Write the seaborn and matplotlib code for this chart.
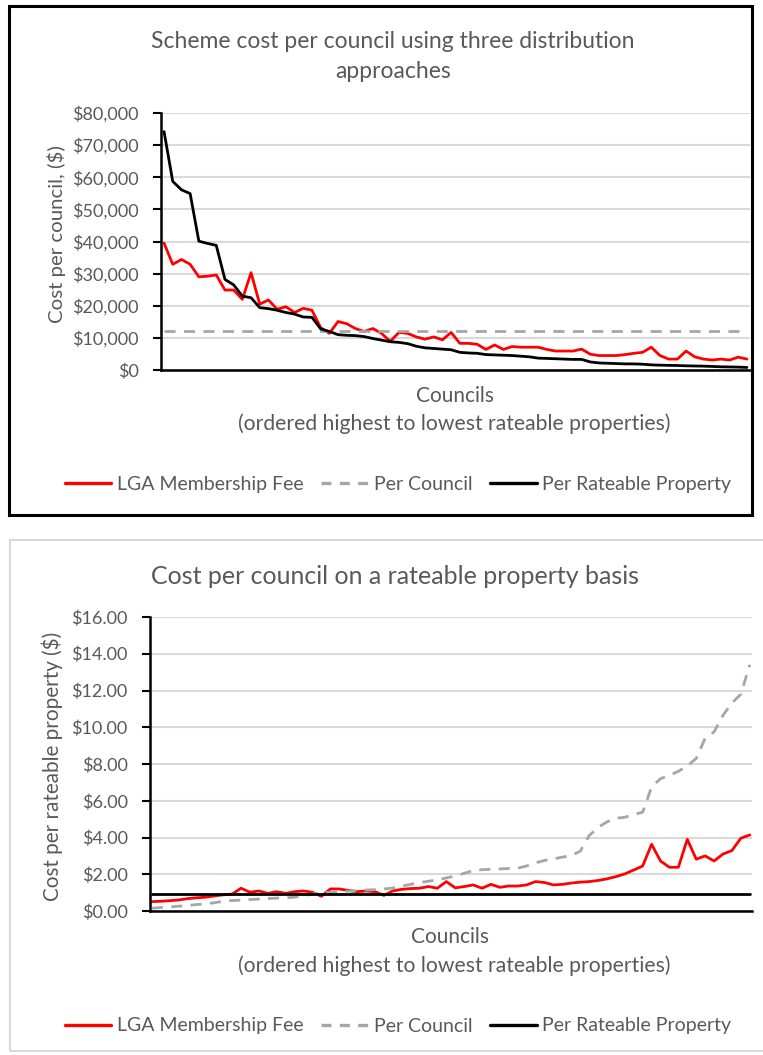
import numpy as np
import pandas as pd
import seaborn as sns
import matplotlib
matplotlib.use("Agg")
import matplotlib.pyplot as plt
from matplotlib.lines import Line2D
from matplotlib.patches import Rectangle
from matplotlib.ticker import FuncFormatter, MultipleLocator

# ---- Data: 68 councils ordered from highest to lowest rateable properties ----
# Scheme cost per council ($), LGA membership-fee distribution
lga_fee_cost = [
    39500, 32900, 34400, 32900, 29000, 29200, 29600, 24900, 24900, 22000,
    30300, 20500, 21800, 18900, 19700, 17900, 19200, 18600, 13200, 11400,
    15100, 14400, 12900, 12000, 12900, 11400, 8900, 11700, 11400, 10300,
    9600, 10300, 9400, 11700, 8300, 8300, 8000, 6400, 7800, 6400,
    7300, 7100, 7100, 7100, 6400, 5900, 5900, 5900, 6500, 4900,
    4500, 4500, 4500, 4800, 5200, 5500, 7100, 4500, 3400, 3400,
    5900, 4100, 3400, 3100, 3400, 3100, 4000, 3400,
]
# Scheme cost per council ($), rateable-property distribution
per_property_cost = [
    74200, 58700, 56100, 54900, 40100, 39400, 38800, 28200, 26500, 23000,
    22500, 19400, 19100, 18600, 17900, 17400, 16500, 16400, 12800, 12000,
    11000, 10800, 10700, 10400, 9800, 9300, 8800, 8600, 8200, 7400,
    6900, 6700, 6500, 6300, 5500, 5300, 5200, 4800, 4700, 4600,
    4500, 4300, 4100, 3700, 3600, 3500, 3400, 3300, 3300, 2500,
    2200, 2100, 2000, 1900, 1900, 1800, 1600, 1500, 1450, 1400,
    1300, 1250, 1200, 1100, 1000, 950, 900, 800,
]
# Flat cost per council ($)
flat_council_cost = 12200

# Cost per rateable property ($), LGA membership-fee distribution
lga_fee_rate = [
    0.51, 0.53, 0.56, 0.60, 0.67, 0.72, 0.75, 0.82, 0.88, 0.92,
    1.24, 1.02, 1.09, 0.96, 1.05, 0.96, 1.05, 1.09, 1.02, 0.80,
    1.20, 1.20, 1.12, 1.05, 1.09, 1.05, 0.85, 1.09, 1.18, 1.22,
    1.24, 1.33, 1.24, 1.60, 1.26, 1.33, 1.42, 1.24, 1.45, 1.29,
    1.36, 1.36, 1.42, 1.60, 1.55, 1.42, 1.45, 1.52, 1.57, 1.60,
    1.66, 1.75, 1.87, 2.02, 2.23, 2.45, 3.63, 2.72, 2.38, 2.38,
    3.90, 2.82, 3.00, 2.72, 3.10, 3.29, 3.96, 4.14,
]
# Cost per rateable property ($), flat per-council distribution
per_council_rate = [
    0.15, 0.19, 0.22, 0.26, 0.30, 0.35, 0.38, 0.45, 0.53, 0.57,
    0.59, 0.62, 0.65, 0.68, 0.70, 0.72, 0.75, 0.84, 0.92, 1.00,
    1.02, 1.05, 1.08, 1.11, 1.14, 1.16, 1.20, 1.25, 1.35, 1.45,
    1.55, 1.62, 1.69, 1.80, 1.90, 2.05, 2.20, 2.25, 2.27, 2.29,
    2.31, 2.33, 2.45, 2.62, 2.75, 2.84, 2.93, 3.02, 3.25, 4.10,
    4.55, 4.85, 5.05, 5.10, 5.25, 5.38, 6.75, 7.20, 7.38, 7.60,
    7.90, 8.30, 9.40, 9.75, 10.65, 11.32, 11.80, 13.40,
]
# Flat cost per rateable property ($)
flat_property_rate = 0.95

series_names = ["LGA Membership Fee", "Per Council", "Per Rateable Property"]
series_colors = ["#ff0000", "#a6a6a6", "#000000"]

n = len(lga_fee_cost)
council = np.arange(n)

cost_df = pd.DataFrame({
    "council": np.tile(council, 3),
    "value": np.concatenate([lga_fee_cost, np.full(n, flat_council_cost), per_property_cost]),
    "series": np.repeat(series_names, n),
})
rate_df = pd.DataFrame({
    "council": np.tile(council, 3),
    "value": np.concatenate([lga_fee_rate, per_council_rate, np.full(n, flat_property_rate)]),
    "series": np.repeat(series_names, n),
})

sns.set_theme(style="white")
FONT = ["Lato", "DejaVu Sans"]
plt.rcParams["font.family"] = FONT
TXT = "#595959"

W, H = 763, 1055
fig = plt.figure(figsize=(W / 100, H / 100), dpi=100)


def fx(px):
    return px / W


def fy(py):
    return 1 - py / H


palette = dict(zip(series_names, series_colors))
dashes = {"LGA Membership Fee": "", "Per Council": (4, 3), "Per Rateable Property": ""}


def draw_panel(ax, df, ymax, ystep, fmt):
    sns.lineplot(data=df, x="council", y="value", hue="series", style="series",
                 palette=palette, dashes=dashes, linewidth=2.0, legend=False, ax=ax,
                 hue_order=series_names)
    ax.set_ylim(0, ymax)
    ax.yaxis.set_major_locator(MultipleLocator(ystep))
    ax.yaxis.set_major_formatter(FuncFormatter(fmt))
    ax.set_xticks([])
    ax.set_xlabel("")
    ax.set_ylabel("")
    ax.grid(axis="y", color="#d9d9d9", linewidth=1.5)
    ax.set_axisbelow(True)
    for s in ("top", "right"):
        ax.spines[s].set_visible(False)
    for s in ("left", "bottom"):
        ax.spines[s].set_color("black")
        ax.spines[s].set_linewidth(1.8)
    ax.tick_params(axis="y", which="major", left=True, length=6, width=1.5,
                   color="black", labelsize=13, labelcolor=TXT, pad=10)


# ---- Panel 1: scheme cost per council ----
fig.patches.append(Rectangle((fx(9), fy(515)), fx(752) - fx(9), fy(6) - fy(515),
                             transform=fig.transFigure, fill=False,
                             edgecolor="black", linewidth=2.2))
ax1 = fig.add_axes([fx(161), fy(370), fx(750) - fx(161), fy(113) - fy(370)])
draw_panel(ax1, cost_df, 80000, 10000, lambda v, p: f"${v:,.0f}")
ax1.set_xlim(-0.35, n - 1 + 0.35)

fig.text(fx(393), fy(42), "Scheme cost per council using three distribution",
         ha="center", va="center", fontsize=16.5, color=TXT)
fig.text(fx(393), fy(72), "approaches", ha="center", va="center", fontsize=16.5, color=TXT)
fig.text(fx(57), fy(234), "Cost per council, ($)", rotation=90,
         ha="center", va="center", fontsize=14.7, color=TXT)
fig.text(fx(455), fy(396), "Councils", ha="center", va="center", fontsize=15, color=TXT)
fig.text(fx(454), fy(424), "(ordered highest to lowest rateable properties)",
         ha="center", va="center", fontsize=15.2, color=TXT)

# ---- Panel 2: cost per rateable property ----
fig.patches.append(Rectangle((fx(10), fy(1051)), fx(775) - fx(10), fy(540) - fy(1051),
                             transform=fig.transFigure, fill=False,
                             edgecolor="#d9d9d9", linewidth=1.5))
ax2 = fig.add_axes([fx(150), fy(911), fx(752) - fx(150), fy(617) - fy(911)])
draw_panel(ax2, rate_df, 16, 2, lambda v, p: f"${v:,.2f}")
ax2.set_xlim(-0.2, n - 1 + 0.25)

fig.text(fx(395), fy(576), "Cost per council on a rateable property basis",
         ha="center", va="center", fontsize=18, color=TXT)
fig.text(fx(52), fy(766), "Cost per rateable property ($)", rotation=90,
         ha="center", va="center", fontsize=14.9, color=TXT)
fig.text(fx(450), fy(937), "Councils", ha="center", va="center", fontsize=15, color=TXT)
fig.text(fx(454), fy(966), "(ordered highest to lowest rateable properties)",
         ha="center", va="center", fontsize=15.2, color=TXT)

# ---- Legends ----
handles = [
    Line2D([], [], color=series_colors[0], linewidth=2.4),
    Line2D([], [], color=series_colors[1], linewidth=2.4, linestyle=(0, (3, 2.5))),
    Line2D([], [], color=series_colors[2], linewidth=2.4),
]
for ycen, xcen in ((484, 398), (1026, 398)):
    fig.legend(handles, series_names, loc="center", bbox_to_anchor=(fx(xcen), fy(ycen)),
               ncol=3, frameon=False, fontsize=14, labelcolor=TXT,
               handlelength=2.4, handletextpad=0.3, columnspacing=0.9)

fig.savefig("out.png", dpi=100, facecolor="white")
